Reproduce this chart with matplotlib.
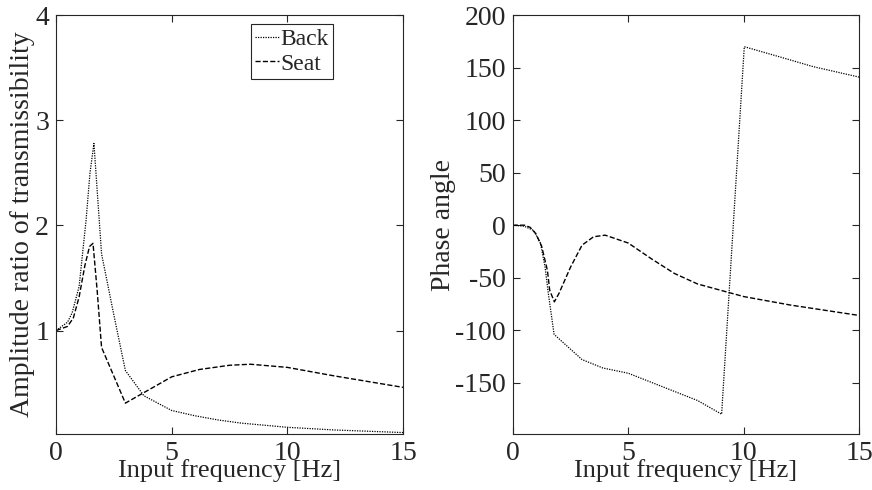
import matplotlib
matplotlib.use("Agg")
import matplotlib.pyplot as plt

plt.rcParams["font.family"] = ["Liberation Serif", "DejaVu Serif"]
plt.rcParams["font.size"] = 20
plt.rcParams["axes.unicode_minus"] = False

# amplitude ratio of transmissibility
freq_back_amp = [0, 0.5, 0.7, 1.0, 1.3, 1.47, 1.64, 1.97, 2.5, 3.0, 3.8, 5.0, 6.0, 7.0, 8.0, 10.0, 12.0, 15.0]
back_amp = [1.0, 1.08, 1.17, 1.42, 2.05, 2.5, 2.78, 1.73, 1.15, 0.62, 0.38, 0.24, 0.19, 0.15, 0.12, 0.08, 0.055, 0.03]
freq_seat_amp = [0, 0.5, 0.75, 1.0, 1.25, 1.45, 1.6, 1.78, 1.97, 3.0, 3.8, 5.0, 6.2, 7.5, 8.4, 10.0, 12.0, 15.0]
seat_amp = [1.0, 1.04, 1.12, 1.32, 1.62, 1.8, 1.83, 1.38, 0.84, 0.31, 0.41, 0.56, 0.63, 0.67, 0.68, 0.65, 0.57, 0.46]

# phase angle
freq_back_ph = [0, 0.5, 0.9, 1.2, 1.4, 1.54, 1.79, 3.0, 3.9, 5.0, 6.5, 8.0, 9.04, 10.02, 11.6, 13.0, 15.0]
back_ph = [0, -1, -5, -17, -40, -65, -104, -128, -136, -141, -154, -167, -180, 170, 160, 151, 141]
freq_seat_ph = [0, 0.5, 0.75, 1.0, 1.25, 1.5, 1.6, 1.8, 2.0, 2.5, 3.0, 3.5, 4.0, 5.0, 6.0, 7.0, 8.0, 9.0, 10.0, 12.0, 15.0]
seat_ph = [0, 0, -2, -8, -20, -43, -62, -73, -65, -40, -19, -11, -9.5, -17, -32, -46, -56, -62, -68, -76, -86]

x_ticks = [0, 5, 10, 15]
amp_ticks = [1, 2, 3, 4]
phase_ticks = [-150, -100, -50, 0, 50, 100, 150, 200]

TXT = "#262626"
DOT = (0, (1, 1))

fig = plt.figure(figsize=(8.72, 4.9), dpi=100)
ax1 = fig.add_axes([0.0642, 0.114, 0.398, 0.855])
ax2 = fig.add_axes([0.588, 0.114, 0.3975, 0.855])

ax1.plot(freq_back_amp, back_amp, color="black", lw=0.9, linestyle=DOT, label="Back")
ax1.plot(freq_seat_amp, seat_amp, color="black", lw=1.0, linestyle="--", label="Seat")
ax1.set_xlim(0, 15)
ax1.set_ylim(0.015, 4)
ax1.set_yticks(amp_ticks)
ax1.set_ylabel("Amplitude ratio of transmissibility", color=TXT, labelpad=0)

ax2.plot(freq_back_ph, back_ph, color="black", lw=0.9, linestyle=DOT)
ax2.plot(freq_seat_ph, seat_ph, color="black", lw=1.0, linestyle="--")
ax2.set_xlim(0, 15)
ax2.set_ylim(-199, 200)
ax2.set_yticks(phase_ticks)
ax2.set_ylabel("Phase angle", color=TXT, labelpad=-1)

for ax in (ax1, ax2):
    ax.set_xticks(x_ticks)
    ax.set_xlabel("Input frequency [Hz]", color=TXT, fontsize=19, labelpad=-5)
    ax.tick_params(direction="in", top=True, right=True, length=5, width=0.8,
                   colors=TXT, labelcolor=TXT, labelsize=20, pad=5)
    for s in ax.spines.values():
        s.set_color(TXT)
        s.set_linewidth(0.8)

leg = ax1.legend(loc="upper left", bbox_to_anchor=(0.562, 0.978), fontsize=17,
                 handlelength=1.0, handletextpad=0.05, borderpad=0.18,
                 labelspacing=0.12, borderaxespad=0, fancybox=False, framealpha=1)
leg.get_frame().set_edgecolor(TXT)
leg.get_frame().set_linewidth(0.8)
for t in leg.get_texts():
    t.set_color(TXT)

fig.savefig("out.png", dpi=100)
